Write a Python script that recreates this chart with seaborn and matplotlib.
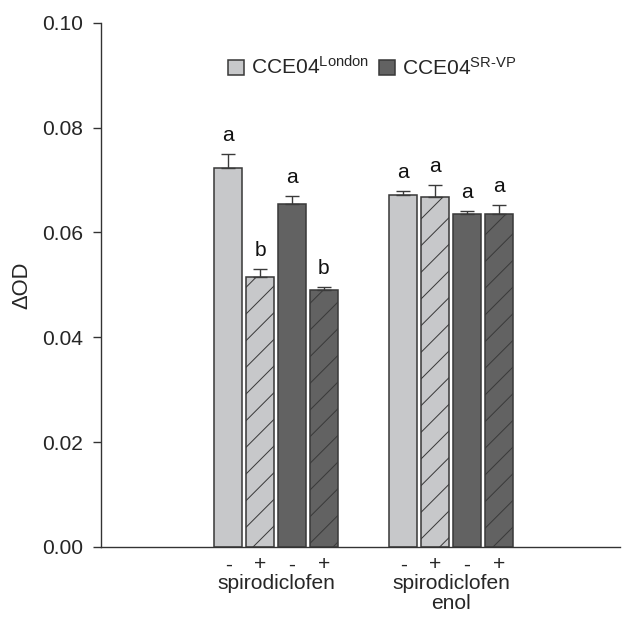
import matplotlib
matplotlib.use("Agg")
import matplotlib.pyplot as plt
import seaborn as sns
import pandas as pd
from matplotlib.patches import Patch

# ---- data ----
compounds = ["spirodiclofen", "spirodiclofen\nenol"]
strains = ["London", "SR-VP"]
treatments = ["-", "+"]
# order within each compound: London -, London +, SR-VP -, SR-VP +
means_spirodiclofen = [0.0722, 0.0515, 0.0654, 0.0490]
sems_spirodiclofen = [0.0027, 0.0015, 0.0015, 0.0005]
letters_spirodiclofen = ["a", "b", "a", "b"]
means_enol = [0.0671, 0.0668, 0.0635, 0.0636]
sems_enol = [0.0008, 0.0023, 0.0006, 0.0017]
letters_enol = ["a", "a", "a", "a"]
yticks = [0.00, 0.02, 0.04, 0.06, 0.08, 0.10]
legend_labels = [r"CCE04$^{\mathrm{London}}$", r"CCE04$^{\mathrm{SR\text{-}VP}}$"]

# ---- styling ----
DPI = 160
sns.set_style("ticks")
FS = 9.45
plt.rcParams.update({
    "font.family": ["Liberation Sans", "DejaVu Sans"],
    "mathtext.fontset": "custom",
    "mathtext.rm": "Liberation Sans",
    "mathtext.it": "Liberation Sans:italic",
    "mathtext.bf": "Liberation Sans:bold",
    "font.size": FS,
    "hatch.linewidth": 0.45,
    "axes.edgecolor": "#333333",
    "axes.linewidth": 0.62,
})
light = "#c7c8ca"
dark = "#626262"
edge = "#3a3a3a"

groups = [f"{s} {t}" for s in strains for t in treatments]
palette = {g: (light if g.startswith("London") else dark) for g in groups}

rows = []
for comp, means, sems, lets in [
    (compounds[0], means_spirodiclofen, sems_spirodiclofen, letters_spirodiclofen),
    (compounds[1], means_enol, sems_enol, letters_enol),
]:
    for g, m, s, l in zip(groups, means, sems, lets):
        rows.append({"compound": comp, "group": g, "mean": m, "sem": s, "letter": l})
df = pd.DataFrame(rows)

fig = plt.figure(figsize=(623 / DPI, 617 / DPI), dpi=DPI)
ax = fig.add_axes([101 / 623, 1 - 547 / 617, 519 / 623, (547 - 22.7) / 617])

sns.barplot(data=df, x="compound", y="mean", hue="group", order=compounds,
            hue_order=groups, palette=palette, width=0.73, gap=0.125,
            edgecolor=edge, linewidth=0.7, errorbar=None, legend=False, ax=ax)

bar_containers = list(ax.containers)
centers, signs = [], []
for gi, cont in enumerate(bar_containers):
    g = groups[gi]
    for ci, bar in enumerate(cont):
        r = df[(df["compound"] == compounds[ci]) & (df["group"] == g)].iloc[0]
        x = bar.get_x() + bar.get_width() / 2
        h = bar.get_height()
        if g.endswith("+"):
            bar.set_hatch("//")
        ax.errorbar([x], [h], yerr=[[0], [r["sem"]]], fmt="none", ecolor=edge,
                    elinewidth=0.62, capsize=3.36, capthick=0.62, zorder=1)
        ax.annotate(r["letter"], xy=(x, h + r["sem"]), xytext=(0, 5.9),
                    textcoords="offset points", ha="center", va="baseline",
                    fontsize=FS, color="#111111")
        centers.append(x)
        signs.append(g.split(" ")[1])

order_idx = sorted(range(len(centers)), key=lambda i: centers[i])
ax.set_xticks([centers[i] for i in order_idx], labels=[signs[i] for i in order_idx])
ax.set_xticks([0, 1], labels=compounds, minor=True)
for lab in ax.get_xticklabels(minor=True):
    lab.set_linespacing(1.1)
ax.tick_params(axis="x", which="major", length=0, pad=3.8, labelsize=FS)
ax.tick_params(axis="x", which="minor", length=0, pad=12.1, labelsize=FS)

ax.set_xlim(-1.0, 1.966)
ax.set_ylim(0, 0.10)
ax.set_yticks(yticks, labels=[f"{v:.2f}" for v in yticks])
ax.tick_params(axis="y", length=3.6, width=0.62, pad=4.3, labelsize=FS, color="#333333")
ax.set_xlabel("")
ax.set_ylabel("ΔOD", fontsize=FS * 1.05, labelpad=4.7)
sns.despine(ax=ax)

handles = [Patch(facecolor=light, edgecolor=edge, linewidth=0.7),
           Patch(facecolor=dark, edgecolor=edge, linewidth=0.7)]
ax.legend(handles, legend_labels, loc="center", bbox_to_anchor=(0.522, 0.915),
          ncol=2, frameon=False, handlelength=0.78, handleheight=0.78,
          handletextpad=0.3, columnspacing=0.5, fontsize=FS, borderpad=0)

fig.savefig("out.png", dpi=DPI)
